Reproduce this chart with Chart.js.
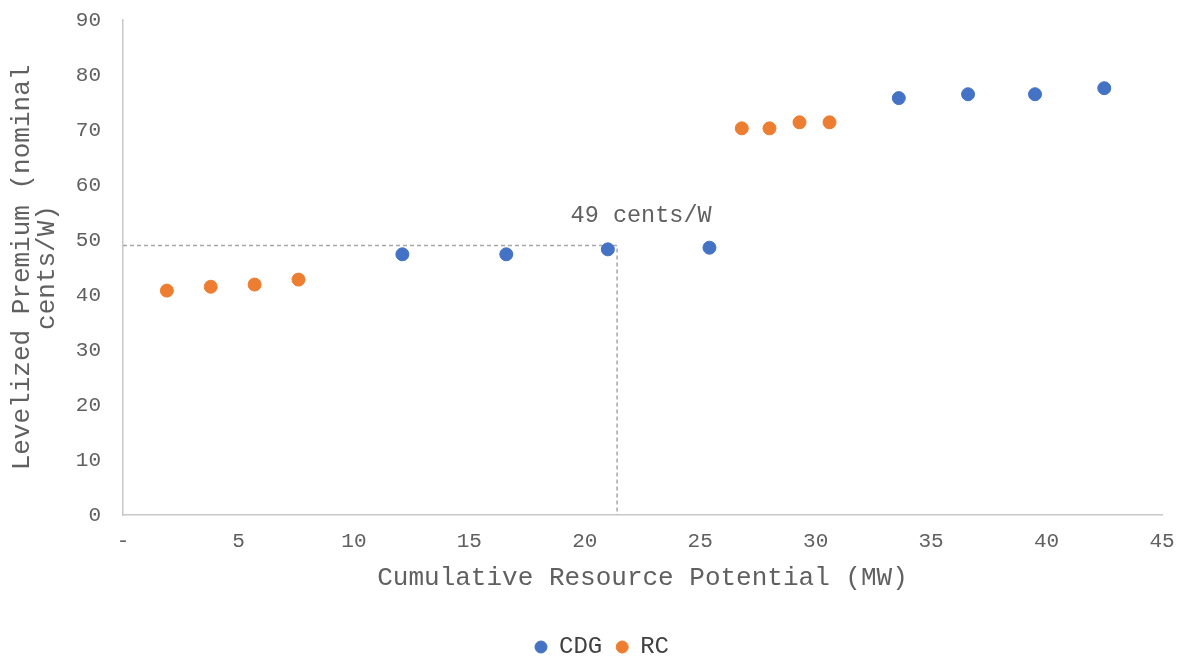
<!DOCTYPE html>
<html lang="en">
<head>
<meta charset="UTF-8">
<title>Levelized Premium vs Cumulative Resource Potential</title>
<script src="https://cdn.jsdelivr.net/npm/chart.js"></script>
<style>
  html, body { margin: 0; padding: 0; background: #fff; }
  #wrap { width: 1183px; height: 660px; }
</style>
</head>
<body>
<div id="wrap"><canvas id="chart"></canvas></div>
<script>
// Data
const cdgX = [12.1, 16.6, 21.0, 25.4, 33.6, 36.6, 39.5, 42.5];
const cdgY = [47.4, 47.4, 48.3, 48.6, 75.8, 76.5, 76.5, 77.6];
const rcX = [1.9, 3.8, 5.7, 7.6, 26.8, 28.0, 29.3, 30.6];
const rcY = [40.8, 41.5, 41.9, 42.8, 70.3, 70.3, 71.4, 71.4];

// Reference marker (49 cents/W at ~21.4 MW)
const refX = [0, 21.4, 21.4];
const refY = [49, 49, 0];
const refLabel = '49 cents/W';

const FONT = "'Liberation Mono', 'Courier New', monospace";
const TEXT = '#606060';

function toPoints(xs, ys) {
    return xs.map((x, i) => ({ x: x, y: ys[i] }));
}

// label above the reference line
const refLabelPlugin = {
    id: 'refLabel',
    afterDatasetsDraw(chart) {
        const { ctx, scales } = chart;
        const px = scales.x.getPixelForValue(refX[1]);
        const py = scales.y.getPixelForValue(refY[0]);
        ctx.save();
        ctx.font = "23.5px " + FONT;
        ctx.fillStyle = TEXT;
        ctx.textAlign = 'center';
        ctx.textBaseline = 'middle';
        ctx.fillText(refLabel, px + 24, py - 30);
        ctx.restore();
    }
};

// nudge the legend a little to the right, like the original
const legendShift = {
    id: 'legendShift',
    afterLayout(chart) {
        chart.legend.left += 21;
        chart.legend.right += 21;
    }
};

const ctx = document.getElementById('chart').getContext('2d');
new Chart(ctx, {
    type: 'scatter',
    data: {
        datasets: [
            {
                label: 'CDG',
                data: toPoints(cdgX, cdgY),
                backgroundColor: '#4472C4',
                borderColor: '#4472C4',
                pointRadius: 6.5,
                pointHoverRadius: 6.5
            },
            {
                label: 'RC',
                data: toPoints(rcX, rcY),
                backgroundColor: '#ED7D31',
                borderColor: '#ED7D31',
                pointRadius: 6.5,
                pointHoverRadius: 6.5
            },
            {
                label: 'ref',
                type: 'line',
                data: toPoints(refX, refY),
                borderColor: '#A6A6A6',
                borderWidth: 1.5,
                borderDash: [4, 3],
                pointRadius: 0,
                fill: false,
                tension: 0
            }
        ]
    },
    options: {
        responsive: true,
        maintainAspectRatio: false,
        animation: false,
        layout: { padding: { top: 20, right: 21, left: 0, bottom: -9 } },
        plugins: {
            tooltip: { enabled: false },
            legend: {
                position: 'bottom',
                labels: {
                    usePointStyle: true,
                    pointStyle: 'circle',
                    boxWidth: 12,
                    boxHeight: 8.5,
                    padding: 14,
                    color: '#404040',
                    font: { family: FONT, size: 24 },
                    filter: item => item.text !== 'ref'
                }
            }
        },
        scales: {
            x: {
                type: 'linear',
                min: 0,
                max: 45,
                grid: { display: false, drawTicks: false },
                border: { display: true, color: '#C8C8C8', width: 1.5 },
                ticks: {
                    stepSize: 5,
                    padding: 14,
                    color: TEXT,
                    font: { family: FONT, size: 21 },
                    callback: v => v === 0 ? '-' : v
                },
                title: {
                    display: true,
                    text: 'Cumulative Resource Potential (MW)',
                    color: TEXT,
                    font: { family: FONT, size: 26, lineHeight: 0.8 },
                    padding: { top: 0, bottom: 32 }
                },
                afterFit(scale) {
                    scale.paddingLeft = 0;
                    scale.paddingRight = 0;
                }
            },
            y: {
                min: 0,
                max: 90,
                grid: { display: false, drawTicks: false },
                border: { display: true, color: '#C8C8C8', width: 1.5 },
                ticks: {
                    stepSize: 10,
                    padding: 22,
                    color: TEXT,
                    font: { family: FONT, size: 21 }
                },
                title: {
                    display: true,
                    text: ['Levelized Premium (nominal', 'cents/W)'],
                    color: TEXT,
                    font: { family: FONT, size: 26, lineHeight: 0.97 },
                    padding: { top: 9, bottom: 0 }
                },
                afterFit(scale) {
                    scale.width = 123;
                    scale.paddingTop = 0;
                    scale.paddingBottom = 0;
                }
            }
        }
    },
    plugins: [refLabelPlugin, legendShift]
});
</script>
</body>
</html>
